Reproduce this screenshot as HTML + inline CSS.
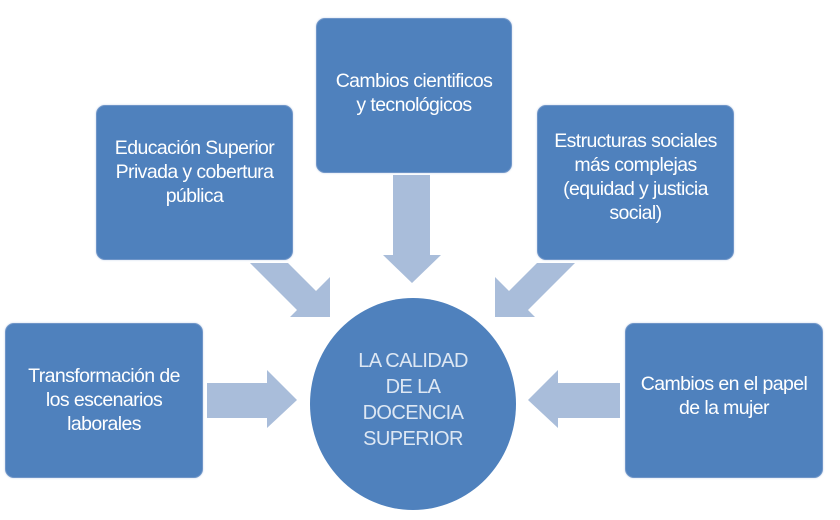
<!DOCTYPE html>
<html><head><meta charset="utf-8"><style>
html,body{margin:0;padding:0;background:#fff;}
body{width:840px;height:520px;position:relative;overflow:hidden;font-family:"Liberation Sans",sans-serif;}
.b{position:absolute;background:#4F81BD;border:1.5px solid #6f95c8;border-radius:9px;box-sizing:border-box;color:#fff;font-size:19.5px;line-height:24px;text-align:center;display:flex;align-items:center;justify-content:center;box-shadow:0 0 2px #c9d6ea;white-space:nowrap;letter-spacing:-0.6px;}
.c{position:absolute;left:310px;top:298px;width:206px;height:212px;border-radius:50%;background:#4F81BD;color:#DDE7F3;font-size:20px;line-height:26px;text-align:center;display:flex;align-items:center;justify-content:center;letter-spacing:-0.6px;}
svg{position:absolute;left:0;top:0;}
</style></head><body>
<svg width="840" height="520">
<g fill="#A9BDDA">
<polygon points="393,175 430,175 430,255 441,255 412,283 383,255 393,255"/>
<polygon points="250,263 288,263 316,291 330,277 330,317 290,317 297,310"/>
<polygon points="575,263 537,263 509,291 495,277 495,317 535,317 528,310"/>
<polygon points="207,383 267,383 267,370 297,400 267,428 267,418 207,418"/>
<polygon points="620,383 558,383 558,370 528,400 558,428 558,418 620,418"/>
</g>
</svg>
<div class="b" style="left:316px;top:18px;width:196px;height:155px;align-items:flex-start;padding-top:50px;">Cambios cientificos<br>y tecnológicos</div>
<div class="b" style="left:96px;top:105px;width:197px;height:155px;padding-bottom:22px;">Educación Superior<br>Privada y cobertura<br>pública</div>
<div class="b" style="left:537px;top:105px;width:197px;height:155px;padding-bottom:12px;">Estructuras sociales<br>más complejas<br>(equidad y justicia<br>social)</div>
<div class="b" style="left:5px;top:323px;width:198px;height:155px;padding-bottom:2px;">Transformación de<br>los escenarios<br>laborales</div>
<div class="b" style="left:625px;top:323px;width:198px;height:155px;padding-bottom:10px;">Cambios en el papel<br>de la mujer</div>
<div class="c"><div style="margin-top:-8px">LA CALIDAD<br>DE LA<br>DOCENCIA<br>SUPERIOR</div></div>
</body></html>
